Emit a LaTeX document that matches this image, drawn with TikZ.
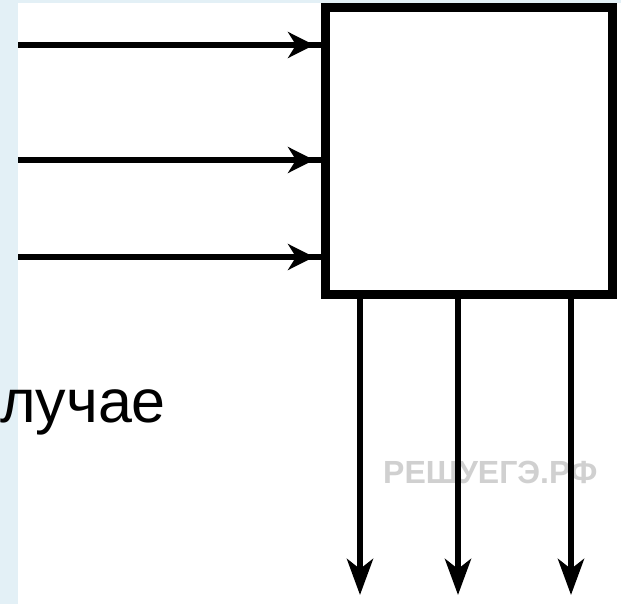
\documentclass[tikz,border=0pt]{standalone}
\usepackage{fontspec}
\setmainfont{Liberation Sans}
\usetikzlibrary{arrows.meta,decorations.markings}

\definecolor{pagebg}{RGB}{227,240,246}
\definecolor{wmgray}{RGB}{208,208,208}

\tikzset{
  blockbox/.style={draw=black, fill=white, line width=9pt, inner sep=0pt, outer sep=0pt,
    minimum width=287pt, minimum height=286pt},
  inline/.style={draw=black, line width=6pt,
    postaction={decorate},
    decoration={markings, mark=at position -11pt with {\arrow{Stealth[length=26pt,width=26pt,inset=8pt]}}}},
  outline/.style={draw=black, line width=6pt, -{Stealth[length=36pt,width=26pt,inset=10pt]}},
  wmark/.style={text=wmgray, font=\bfseries\fontsize{32}{36}\selectfont, inner sep=0pt, anchor=west},
  bigtext/.style={text=black, font=\fontsize{61}{70}\selectfont, inner sep=0pt, anchor=base west}
}

\begin{document}
\begin{tikzpicture}[x=1pt,y=-1pt]
  \useasboundingbox (0,0) rectangle (621,604);
  % page background with the light blue margins
  \fill[pagebg] (0,0) rectangle (621,604);
  \fill[white] (18,3) rectangle (621,604);

  % caption fragment and watermark
  \node[bigtext] (caption) at (0,422) {лучае};
  \node[wmark] (wm) at (383,472) {РЕШУЕГЭ.РФ};

  % the block
  \node[blockbox] (box) at (468.5,151) {};

  % inputs
  \coordinate (i1) at (18,45);
  \coordinate (i2) at (18,160);
  \coordinate (i3) at (18,257);
  \draw[inline] (i1) -- (i1 -| box.west);
  \draw[inline] (i2) -- (i2 -| box.west);
  \draw[inline] (i3) -- (i3 -| box.west);

  % outputs
  \coordinate (o1) at (360,595);
  \coordinate (o2) at (458,595);
  \coordinate (o3) at (571,595);
  \draw[outline] (o1 |- box.south) -- (o1);
  \draw[outline] (o2 |- box.south) -- (o2);
  \draw[outline] (o3 |- box.south) -- (o3);
\end{tikzpicture}
\end{document}
